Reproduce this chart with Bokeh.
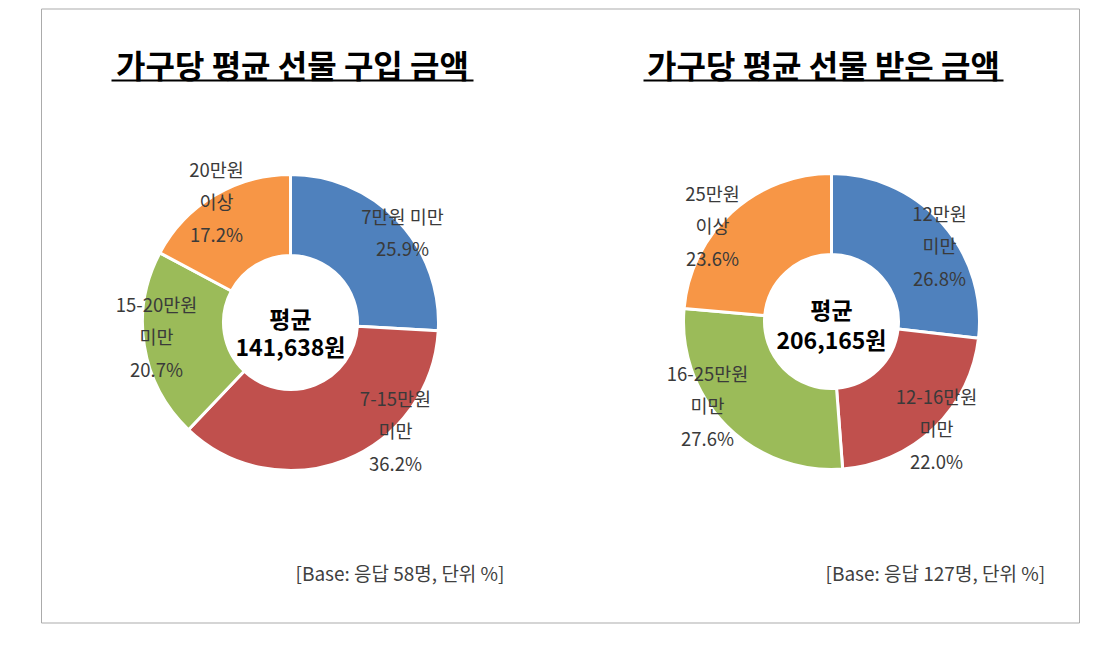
import math
from bokeh.plotting import figure
from bokeh.models import Range1d
from bokeh.core.properties import value
from bokeh.embed import file_html
from bokeh.resources import INLINE

# ---------------- data ----------------
titles = ["가구당 평균 선물 구입 금액", "가구당 평균 선물 받은 금액"]
left_labels = [["7만원 미만"], ["7-15만원", "미만"], ["15-20만원", "미만"], ["20만원", "이상"]]
left_values = [25.9, 36.2, 20.7, 17.2]
right_labels = [["12만원", "미만"], ["12-16만원", "미만"], ["16-25만원", "미만"], ["25만원", "이상"]]
right_values = [26.8, 22.0, 27.6, 23.6]
center_title = "평균"
averages = ["141,638원", "206,165원"]
bases = ["[Base: 응답 58명, 단위 %]", "[Base: 응답 127명, 단위 %]"]
colors = ["#4F81BD", "#C0504D", "#9BBB59", "#F79646"]

# ---------------- layout (screen px) ----------------
W, H = 1100, 637
FONT = "Noto Sans CJK KR"
centers = [(290, 322), (831, 321)]
R_OUT, R_IN = 148, 67
# offsets of label first lines relative to donut center (screen px)
left_label_pos = [(112, -107), (105, 75), (-134, -19), (-74, -154)]
right_label_pos = [(108, -109), (105, 74), (-124, 51), (-119, -129)]
LINE_GAP = 32.5
title_cx = [292, 823]
title_half_w = [181, 180]
center_text_y = [(317, 345), (308, 338)]
base_x = [295, 825]


def Y(sy):
    return 653 - sy


p = figure(width=W, height=H, x_range=Range1d(0, W), y_range=Range1d(653 - H, 653),
           output_backend="svg", toolbar_location=None, min_border=0)
p.axis.visible = False
p.grid.visible = False
p.outline_line_color = None
p.background_fill_color = "white"
p.border_fill_color = "white"

# frame
p.quad(left=[41], right=[1079], top=[Y(8.5)], bottom=[Y(622.5)], fill_color=None,
       line_color="#ABABAB", line_width=1)

for k, (vals, labels, pos) in enumerate([(left_values, left_labels, left_label_pos),
                                          (right_values, right_labels, right_label_pos)]):
    cx, cy = centers[k]
    total = sum(vals)
    cum = 0.0
    starts, ends = [], []
    for v in vals:
        a0 = math.pi / 2 - 2 * math.pi * (cum + v) / total
        a1 = math.pi / 2 - 2 * math.pi * cum / total
        starts.append(a0)
        ends.append(a1)
        cum += v
    n = len(vals)
    p.annular_wedge(x=[cx] * n, y=[Y(cy)] * n, inner_radius=R_IN, outer_radius=R_OUT,
                    start_angle=starts, end_angle=ends, direction="anticlock",
                    fill_color=colors, line_color="white", line_width=3)

    # slice labels
    xs, ys, txt = [], [], []
    for lines, v, (dx, dy) in zip(labels, vals, pos):
        all_lines = list(lines) + [f"{v:.1f}%"]
        for i, t in enumerate(all_lines):
            xs.append(cx + dx)
            ys.append(Y(cy + dy + i * LINE_GAP))
            txt.append(t)
    p.text(x=xs, y=ys, text=txt, text_font=value(FONT), text_font_size="18.5px",
           text_color="#3A3A3A", text_align="center", text_baseline="middle")

    # center text
    y1, y2 = center_text_y[k]
    p.text(x=[cx, cx], y=[Y(y1), Y(y2)], text=[center_title, averages[k]],
           text_font=value(FONT), text_font_size="23px", text_font_style="bold",
           text_color="black", text_align="center", text_baseline="middle")

    # title + underline
    p.text(x=[title_cx[k]], y=[Y(63)], text=[titles[k]], text_font=value(FONT),
           text_font_size="32px", text_font_style="bold", text_color="black",
           text_align="center", text_baseline="middle")
    p.segment(x0=[title_cx[k] - title_half_w[k]], x1=[title_cx[k] + title_half_w[k]],
              y0=[Y(80)], y1=[Y(80)], line_color="black", line_width=2)

    # base note
    p.text(x=[base_x[k]], y=[Y(572)], text=[bases[k]], text_font=value(FONT),
           text_font_size="19px", text_color="#404040", text_align="left",
           text_baseline="middle")

open("out.html", "w").write(file_html(p, INLINE))
